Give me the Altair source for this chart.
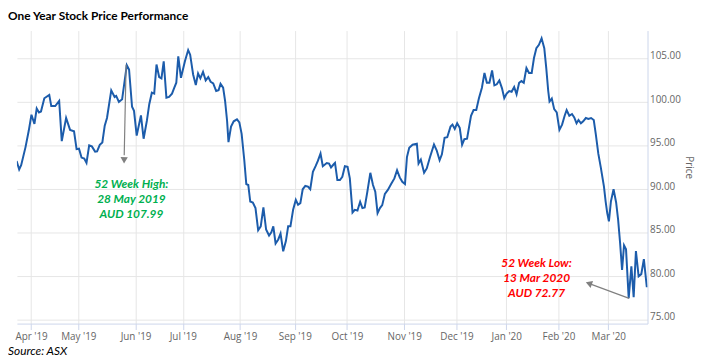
import json
import altair as alt
import pandas as pd

# Trading-day index (0 = first trading day of Apr 2019) and closing price
day = [-5.81, -4.78, -3.98, -2.23, -0.92, 0.16, 1.35, 2.27, 3.18, 3.98, 5.33, 7.32, 8.12, 9.71, 11.30,
       12.34, 14.09, 15.68, 17.27, 18.30, 19.26, 20.29, 21.37, 22.28, 23.36, 24.43, 25.75, 26.54, 27.62,
       28.65, 29.61, 30.52, 32.23, 33.59, 34.22, 35.30, 36.61, 38.48, 39.39, 40.59, 41.38, 42.46, 44.17,
       45.24, 46.56, 47.51, 48.55, 49.50, 50.42, 51.49, 52.41, 53.32, 54.40, 55.47, 56.65, 57.58, 58.38,
       59.17, 60.25, 61.84, 63.15, 63.95, 65.14, 66.22, 67.13, 68.05, 69.12, 70.19, 71.23, 72.18, 73.22,
       74.41, 75.37, 76.16, 77.20, 77.99, 78.79, 79.35, 80.38, 81.46, 82.77, 83.72, 84.64, 85.71, 86.51,
       87.31, 88.10, 89.14, 90.21, 91.28, 92.32, 93.39, 94.47, 95.66, 96.58, 97.37, 98.29, 99.36, 100.28,
       101.35, 102.43, 103.34, 104.26, 105.33, 106.41, 107.32, 108.24, 109.19, 110.23, 111.30, 112.22,
       113.29, 114.37, 115.28, 116.35, 117.27, 118.86, 119.78, 120.57, 121.65, 122.17, 123.12, 124.15,
       125.11, 126.14, 127.22, 128.13, 129.21, 130.12, 131.20, 132.27, 133.19, 134.10, 135.18, 136.37,
       137.44, 138.36, 139.28, 140.23, 141.15, 142.22, 143.41, 144.73, 146.04, 147.11, 148.19, 149.22,
       150.30, 151.09, 152.01, 153.36, 155.07, 155.75, 156.67, 157.98, 159.05, 160.37, 161.96, 163.03,
       164.22, 165.14, 166.21, 167.29, 168.60, 169.40, 170.31, 171.27, 172.30, 173.26, 174.17, 175.25,
       176.84, 177.87, 178.95, 180.02, 181.22, 182.25, 183.21, 184.24, 185.31, 186.23, 187.19, 188.22,
       189.30, 190.21, 191.17, 192.20, 193.16, 194.19, 195.15, 196.18, 197.13, 198.05, 199.12, 200.16,
       201.23, 202.15, 203.11, 204.14, 205.21, 206.29, 207.08, 207.88, 208.40, 209.31, 210.27, 211.30,
       212.38, 213.45, 214.48, 215.28, 216.35, 217.43, 218.34, 219.26, 220.05, 221.01, 221.93, 223.00,
       224.03, 225.11, 226.18, 226.98, 228.01, 228.97, 230.28, 230.96, 231.60, 232.27, 233.06, 234.14,
       235.17, 235.97, 236.76, 237.56, 238.35, 239.15, 240.22, 241.30, 242.22, 243.13, 244.21, 245.28,
       246.32, 247.51]

price = [93.25, 92.27, 92.76, 94.84, 96.74, 98.56, 97.50, 99.27, 98.82, 98.93, 100.45, 100.83, 99.55, 99.55, 100.15,
         95.52, 98.18, 96.82, 96.66, 94.61, 94.66, 93.64, 93.52, 93.02, 95.03, 94.92, 94.32, 94.35, 95.11,
         95.38, 97.31, 98.18, 101.36, 100.60, 100.72, 100.03, 100.34, 104.24, 103.75, 99.47, 99.00, 96.17, 98.48,
         95.80, 97.87, 99.77, 101.09, 100.98, 104.32, 102.88, 102.73, 104.69, 100.52, 100.60, 100.98, 101.66, 102.23,
         105.26, 102.80, 104.69, 105.98, 105.45, 103.18, 101.97, 103.30, 102.73, 103.48, 102.50, 102.88, 102.34, 102.16,
         101.28, 101.36, 102.11, 101.66, 100.15, 97.87, 95.41, 97.19, 97.80, 98.02, 97.68, 96.36, 93.33, 90.60,
         90.49, 88.59, 88.48, 87.84, 85.30, 85.75, 87.91, 85.38, 84.69, 85.07, 85.75, 83.78, 84.24, 84.92,
         82.88, 84.05, 85.75, 85.75, 87.65, 88.78, 88.22, 88.41, 90.00, 90.38, 90.30, 90.00,
         92.00, 92.65, 93.25, 94.09, 92.65, 93.02, 92.95, 92.50, 92.87, 93.02, 91.06, 91.06,
         91.43, 92.65, 92.57, 91.25, 87.34, 87.65, 87.57, 88.56, 87.84, 87.91, 89.73, 91.89,
         90.49, 89.73, 87.27, 87.84, 88.18, 89.47, 89.92, 90.60, 91.25, 92.19, 91.36, 90.86,
         90.60, 93.70, 94.77, 95.11, 95.23, 92.95, 93.41, 91.89, 92.39, 93.70, 95.15, 94.47,
         93.33, 94.01, 95.91, 95.98, 97.19, 97.42, 96.93, 97.57, 97.05, 95.11, 95.75, 95.80,
         98.44, 99.09, 99.09, 100.45, 101.66, 103.36, 102.23, 102.23, 103.64, 101.93, 102.05, 102.50,
         101.59, 100.45, 100.98, 101.28, 101.20, 101.74, 100.90, 102.23, 102.42, 102.23, 103.93, 103.36,
         103.36, 105.07, 106.20, 106.59, 107.34, 106.20, 103.93, 101.28, 100.07, 100.41, 99.20, 98.82,
         96.82, 97.42, 98.44, 99.09, 98.44, 98.64, 98.25, 97.57, 97.95, 97.57, 97.80, 98.18,
         98.07, 98.18, 97.95, 96.36, 94.09, 92.57, 90.30, 88.59, 87.27, 86.32, 88.59, 90.00,
         88.48, 86.51, 83.86, 80.75, 83.56, 83.10, 77.50, 81.14, 77.61, 82.91, 80.00, 80.26,
         81.97, 78.75]

# Axis ticks: first trading day of each month
month_day = [0, 19, 42, 61, 84, 106, 127, 150, 171, 191, 212, 232]
month_lbl = ["Apr '19", "May '19", "Jun '19", "Jul '19", "Aug '19", "Sep '19",
             "Oct '19", "Nov '19", "Dec '19", "Jan '20", "Feb '20", "Mar '20"]
y_ticks = [75, 80, 85, 90, 95, 100, 105]

# Annotations
ann_text = ["52 Week High:", "28 May 2019", "AUD 107.99",
            "52 Week Low:", "13 Mar 2020", "AUD 72.77"]
ann_day = [40.35, 40.35, 40.35, 203.2, 203.2, 203.2]
ann_price = [90.60, 88.90, 87.19, 81.51, 79.81, 78.10]
ann_color = ["#00B050", "#00B050", "#00B050", "#FF0000", "#FF0000", "#FF0000"]

arrow_day = [38.2, 240.4]
arrow_price = [104.3, 77.48]
arrow_day2 = [37.45, 223.6]
arrow_price2 = [93.9, 79.25]
head_day = [37.4, 224.2]
head_price = [93.33, 79.19]
head_angle = [181, 290]

title_text = "One Year Stock Price Performance"
source_text = "Source: ASX"

df = pd.DataFrame({"day": day, "price": price})
df_ann = pd.DataFrame({"day": ann_day, "price": ann_price, "text": ann_text, "color": ann_color})
df_arrow = pd.DataFrame({"day": arrow_day, "price": arrow_price, "day2": arrow_day2, "price2": arrow_price2})
df_head = pd.DataFrame({"day": head_day, "price": head_price, "angle": head_angle})

xs = alt.Scale(domain=[-5.69, 247.79], nice=False, zero=False)
ys = alt.Scale(domain=[74.58, 108.22], nice=False, zero=False)

label_expr = f"{json.dumps(month_lbl)}[indexof({json.dumps(month_day)}, datum.value)]"

x_axis = alt.Axis(values=month_day, labelExpr=label_expr, grid=True, gridColor="#e6e6e6",
                  domainColor="#ccd6eb", tickColor="#ccd6eb", tickSize=6, labelColor="#666666",
                  labelFont="Open Sans", labelFontSize=10, labelPadding=2, title=None,
                  labelFlush=False, labelOverlap=False)
y_axis = alt.Axis(orient="right", values=y_ticks, format=".2f", grid=True, gridColor="#e6e6e6",
                  domainColor="#ccd6eb", ticks=False, tickSize=0, labelColor="#666666",
                  labelFont="Open Sans", labelFontSize=10, labelPadding=2, labelBaseline="alphabetic",
                  labelFlush=False, title="Price", titleColor="#666666", titleFont="Open Sans",
                  titleFontSize=10, titleFontWeight="normal", titleX=41, titleY=138, titleAngle=90,
                  titleAlign="center", titleBaseline="middle")

X = alt.X("day:Q", scale=xs, axis=x_axis)
Y = alt.Y("price:Q", scale=ys, axis=y_axis)

line = alt.Chart(df).mark_line(color="#1c5cab", strokeWidth=2, clip=True).encode(x=X, y=Y)

rules = alt.Chart(df_arrow).mark_rule(color="#808080", strokeWidth=1.2).encode(
    x=X, y=Y, x2="day2:Q", y2="price2:Q")

heads = alt.Chart(df_head).mark_point(shape="triangle-up", filled=True, color="#808080",
                                      size=55, opacity=1).encode(
    x=X, y=Y, angle=alt.Angle("angle:Q", scale=None))

ann = alt.Chart(df_ann).mark_text(font="Lato", fontSize=12, fontWeight="bold", fontStyle="italic",
                                  align="center", baseline="middle").encode(
    x=X, y=Y, text="text:N", color=alt.Color("color:N", scale=None))

title = alt.Chart(pd.DataFrame({"t": [title_text]})).mark_text(
    font="Lato", fontSize=12, fontWeight="bold", color="#000000", align="left",
    baseline="alphabetic").encode(text="t:N", x=alt.value(-9), y=alt.value(-11))

source = alt.Chart(pd.DataFrame({"t": [source_text]})).mark_text(
    font="Lato", fontSize=12, fontStyle="italic", color="#000000", align="left",
    baseline="alphabetic").encode(text="t:N", x=alt.value(-9), y=alt.value(328))

chart = alt.layer(line, rules, heads, ann, title, source).properties(
    width=637, height=296,
    autosize=alt.AutoSizeParams(type="none"),
    padding={"left": 9, "top": 21, "right": 52, "bottom": 36},
    background="white",
).configure_view(strokeWidth=0)

chart.save("out.html", embed_options={"renderer": "svg", "actions": False})
